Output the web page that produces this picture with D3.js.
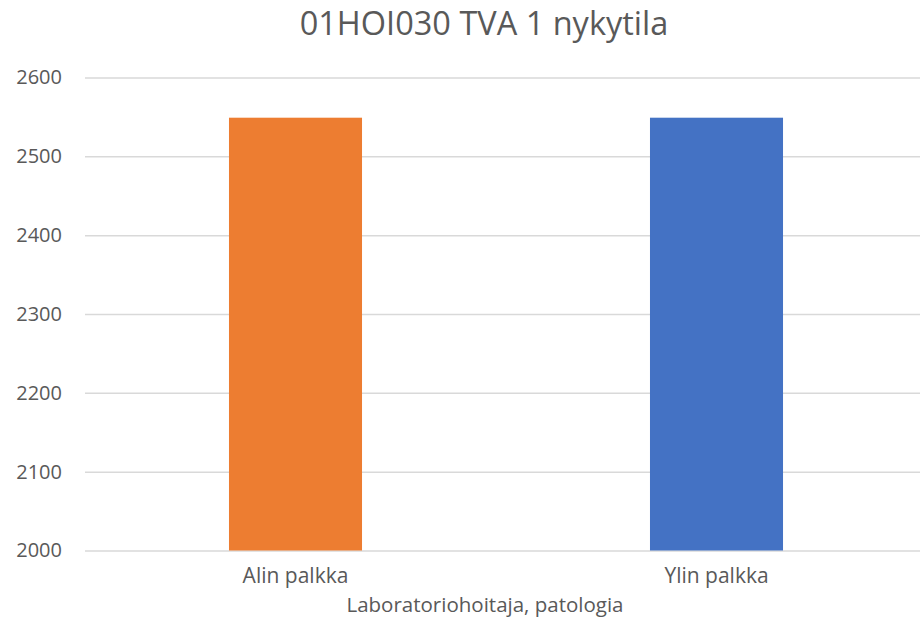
<!DOCTYPE html>
<html>
<head>
<meta charset="utf-8">
<script src="https://cdn.jsdelivr.net/npm/d3@7"></script>
<style>
  body { margin: 0; background: #fff; }
  text { font-family: "Open Sans", sans-serif; fill: #595959; }
</style>
</head>
<body>
<div id="chart"></div>
<script>
const categories = ["Alin palkka", "Ylin palkka"];
const values = [2549, 2549];
const barColors = ["#ed7d31", "#4472c4"];
const yTicks = [2000, 2100, 2200, 2300, 2400, 2500, 2600];

const chartTitle = "01HOI030 TVA 1 nykytila";
const xTitle = "Laboratoriohoitaja, patologia";

const width = 920;
const height = 627;
const margin = { left: 85, right: -7, top: 77.5, bottom: 76.5 };

const svg = d3
  .select("#chart")
  .append("svg")
  .attr("width", width)
  .attr("height", height);

const xScale = d3
  .scaleBand()
  .domain(categories)
  .range([margin.left, width - margin.right])
  .paddingInner(0.684)
  .paddingOuter(0.342);

const yScale = d3
  .scaleLinear()
  .domain([2000, 2600])
  .range([height - margin.bottom, margin.top]);

// gridlines + tick labels
const yAxis = d3
  .axisLeft(yScale)
  .tickValues(yTicks)
  .tickFormat(d3.format("d"))
  .tickSize(0)
  .tickPadding(23);

svg
  .append("g")
  .attr("class", "y-axis")
  .attr("transform", `translate(${margin.left}, 0)`)
  .call(yAxis)
  .call((g) => g.select(".domain").remove())
  .call((g) =>
    g
      .selectAll(".tick line")
      .clone()
      .attr("x2", width - margin.right - margin.left)
      .attr("stroke", "#d9d9d9")
      .attr("stroke-width", 1.5)
  )
  .call((g) =>
    g.selectAll(".tick text").attr("font-size", 20).attr("fill", "#595959")
  );

svg
  .append("g")
  .selectAll("rect")
  .data(values)
  .join("rect")
  .attr("x", (d, i) => xScale(categories[i]))
  .attr("y", (d) => yScale(d))
  .attr("width", xScale.bandwidth())
  .attr("height", (d) => yScale(2000) - yScale(d))
  .attr("fill", (d, i) => barColors[i]);

const xAxis = d3.axisBottom(xScale).tickSize(0).tickPadding(18);

svg
  .append("g")
  .attr("class", "x-axis")
  .attr("transform", `translate(0, ${yScale(2000)})`)
  .call(xAxis)
  .call((g) => g.select(".domain").remove())
  .call((g) =>
    g.selectAll(".tick text").attr("font-size", 21).attr("fill", "#595959")
  );

svg
  .append("text")
  .attr("x", 484)
  .attr("y", 35)
  .attr("text-anchor", "middle")
  .attr("font-size", 32.5)
  .text(chartTitle);

svg
  .append("text")
  .attr("x", 485)
  .attr("y", 612)
  .attr("text-anchor", "middle")
  .attr("font-size", 20.5)
  .text(xTitle);
</script>
</body>
</html>
